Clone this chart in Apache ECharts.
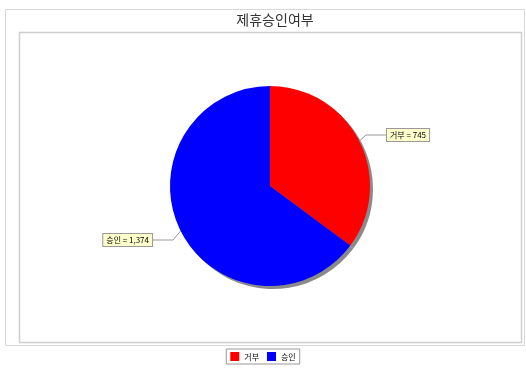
<!DOCTYPE html>
<html>
<head>
<meta charset="utf-8">
<script src="https://cdn.jsdelivr.net/npm/echarts@6/dist/echarts.min.js"></script>
<style>html,body{margin:0;padding:0;background:#fff}#c{width:526px;height:377px}</style>
</head>
<body>
<div id="c"></div>
<script>
var titleText = '제휴승인여부';
var categories = ['거부', '승인'];
var values = [745, 1374];
var colors = ['#ff0000', '#0000ff'];

var chart = echarts.init(document.getElementById('c'), null, {renderer: 'canvas'});
var font = '"Noto Sans CJK KR", sans-serif';
var pieData = categories.map(function (c, i) { return {name: c, value: values[i]}; });
var option = {
  animation: false,
  color: colors,
  title: {
    text: titleText, left: 270, textAlign: 'center', top: 8,
    textStyle: {fontSize: 14, fontWeight: 'normal', color: '#333', fontFamily: font}
  },
  graphic: [
    {type: 'rect', shape: {x: 5.5, y: 9.5, width: 519, height: 336}, style: {fill: 'none', stroke: '#d8d8d8', lineWidth: 1}, silent: true},
    {type: 'rect', shape: {x: 19.5, y: 32.5, width: 502, height: 310}, style: {fill: '#fff', stroke: '#cfcfcf', lineWidth: 1.5}, silent: true, z: -1}
  ],
  legend: {
    data: categories.map(function (c, i) { return {name: c, itemStyle: {color: colors[i]}}; }),
    bottom: 13, left: 'center', orient: 'horizontal',
    icon: 'rect', itemWidth: 9, itemHeight: 9, itemGap: 8,
    borderColor: '#999', borderWidth: 1, padding: [3, 4],
    textStyle: {fontSize: 8, color: '#000', fontFamily: font}
  },
  series: [{
    type: 'pie',
    center: [270, 186],
    radius: 100,
    startAngle: 90,
    clockwise: true,
    z: 3,
    data: pieData,
    itemStyle: {borderWidth: 0},
    label: {
      show: true,
      formatter: function (p) { return p.name + ' = ' + p.value.toLocaleString('en-US'); },
      fontSize: 8, color: '#000', fontFamily: font,
      backgroundColor: '#ffffcc', borderColor: '#999', borderWidth: 1, padding: [2, 3]
    },
    labelLine: {show: true, lineStyle: {color: '#999', width: 1}, length: 15, length2: 20},
    labelLayout: function (p) {
      if (p.dataIndex === 0) return {x: 387, y: 135, align: 'left', verticalAlign: 'middle'};
      return {x: 152, y: 240, align: 'right', verticalAlign: 'middle'};
    },
    emphasis: {disabled: true}
  }, {
    type: 'pie',
    name: 'shadow',
    center: [273, 189],
    radius: 100,
    startAngle: 90,
    z: 1,
    silent: true,
    data: pieData,
    itemStyle: {color: '#8a8a8a', borderWidth: 0},
    label: {show: false}, labelLine: {show: false},
    emphasis: {disabled: true}
  }]
};
chart.setOption(option);
</script>
</body>
</html>
